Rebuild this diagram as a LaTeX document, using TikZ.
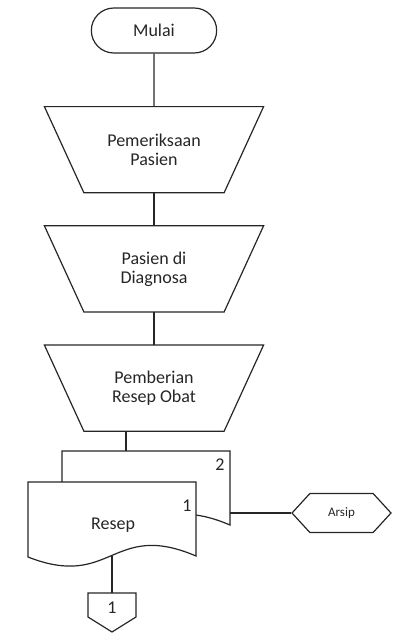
\documentclass[tikz,border=0pt]{standalone}
\usepackage{fontspec}
\setmainfont{Carlito}
\usetikzlibrary{positioning,shapes.misc,shapes.symbols}

\begin{document}
\begin{tikzpicture}[
  x=1pt,y=1pt,
  line width=1.2pt,
  draw=black!85,
  txt/.style={text=black!85,font=\fontsize{18}{19}\selectfont},
  term/.style={draw,txt,rounded rectangle,minimum width=132pt,minimum height=45pt},
  proc/.style={txt,minimum width=218pt,minimum height=85pt,align=center,inner sep=0pt},
  arsip/.style={draw,signal,signal to=east and west,signal pointer angle=95,minimum width=99pt,minimum height=39pt,inner sep=0pt,text=black!85,font=\fontsize{13}{14}\selectfont},
  doc/.style={draw,fill=white}
]
\useasboundingbox (0,0) rectangle (396,-634);

% main chain
\node[term] (mulai) at (154,-30.5) {Mulai};
\node[proc,below=53pt of mulai] (periksa) {Pemeriksaan\\Pasien};
\node[proc,below=33pt of periksa] (diag) {Pasien di\\Diagnosa};
\node[proc,below=33pt of diag] (beri) {Pemberian\\Resep Obat};

% manual operation outlines
\foreach \n in {periksa,diag,beri}
  \draw (\n.north west) -- (\n.north east) -- ([xshift=-39.5pt]\n.south east) -- ([xshift=39.5pt]\n.south west) -- cycle;

\draw (mulai) -- (periksa);
\draw (periksa) -- (diag);
\draw (diag) -- (beri);

% resep, two copies
\coordinate (inb) at (126,-451);
\coordinate (outb) at (230,-513);
\coordinate (outf) at (112,-556);
\draw[doc] (62,-451) -- (230,-451) -- (230,-525) .. controls (146,-489) and (146,-559) .. (62,-526) -- cycle;
\draw[doc] (28,-482) -- (196,-482) -- (196,-556) .. controls (112,-520) and (112,-590) .. (28,-557) -- cycle;
\node[txt] (resep) at (113,-525) {Resep};
\node[txt] (lbl2) at (220,-465) {2};
\node[txt] (lbl1) at (187,-506) {1};

\draw (inb |- beri.south) -- (inb);

% arsip and off page
\node[arsip] (arsip) at (341.5,-513) {Arsip};
\draw (outb) -- (arsip.west);

\node[txt] (off) at (112,-608) {1};
\draw (88,-593) coordinate (offtl) -- (136,-593) -- (136,-617) -- (112,-632) -- (88,-617) -- cycle;
\draw (outf) -- (off |- offtl);
\end{tikzpicture}
\end{document}
